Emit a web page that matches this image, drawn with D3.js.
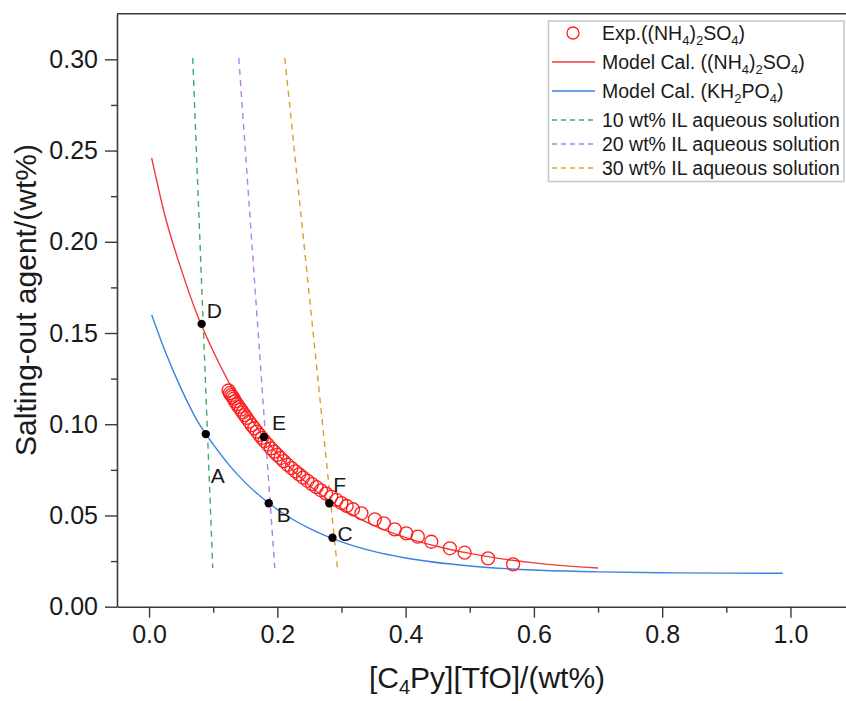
<!DOCTYPE html>
<html>
<head>
<meta charset="utf-8">
<script src="https://cdn.jsdelivr.net/npm/d3@7"></script>
<style>
  body { margin: 0; background: #fff; }
  svg { display: block; font-family: "Liberation Sans", Arial, sans-serif; }
</style>
</head>
<body>
<div id="chart"></div>
<script>
// Experimental points, (NH4)2SO4
const expX = [0.124, 0.126, 0.128, 0.130, 0.132, 0.134, 0.137, 0.140, 0.143, 0.146,
    0.149, 0.152, 0.156, 0.160, 0.164, 0.168, 0.172, 0.176, 0.180, 0.185,
    0.190, 0.195, 0.200, 0.205, 0.210, 0.216, 0.222, 0.228, 0.234, 0.240,
    0.247, 0.254, 0.261, 0.268, 0.276, 0.284, 0.292, 0.300, 0.308, 0.318,
    0.331, 0.352, 0.366, 0.383, 0.401, 0.419, 0.440, 0.469, 0.492, 0.5285, 0.5675];
const expY = [0.1185, 0.1170, 0.1160, 0.1150, 0.1140, 0.1125, 0.1110, 0.1095, 0.1080, 0.1065,
    0.1050, 0.1035, 0.1015, 0.0995, 0.0978, 0.0960, 0.0942, 0.0925, 0.0908, 0.0888,
    0.0868, 0.0850, 0.0832, 0.0815, 0.0798, 0.0778, 0.0760, 0.0742, 0.0725, 0.0708,
    0.0690, 0.0672, 0.0655, 0.0638, 0.0620, 0.0602, 0.0585, 0.0568, 0.0552, 0.0534,
    0.0512, 0.0479, 0.0457, 0.0424, 0.0402, 0.0384, 0.0356, 0.0320, 0.0296, 0.0265, 0.0232];

// Model curve (NH4)2SO4
const modelNX = [0.004, 0.025, 0.05, 0.075, 0.1, 0.125, 0.15, 0.175, 0.2, 0.25,
    0.3, 0.35, 0.4, 0.45, 0.5, 0.55, 0.6, 0.65, 0.7];
const modelNY = [0.246, 0.214, 0.185, 0.160, 0.140, 0.1226, 0.1076, 0.0947, 0.0838, 0.0664,
    0.0538, 0.0446, 0.0379, 0.0330, 0.0292, 0.0262, 0.0240, 0.0224, 0.0212];

// Model curve KH2PO4
const modelKX = [0.004, 0.025, 0.05, 0.075, 0.1, 0.125, 0.15, 0.2, 0.25, 0.3,
    0.35, 0.4, 0.5, 0.6, 0.7, 0.8, 0.9, 0.988];
const modelKY = [0.160, 0.140, 0.1195, 0.102, 0.089, 0.0776, 0.068, 0.0533, 0.0429, 0.0355,
    0.0303, 0.0267, 0.0223, 0.0201, 0.0191, 0.0186, 0.0184, 0.0183];

// IL aqueous solution lines (top end, bottom end)
const solNames = ["10 wt% IL aqueous solution", "20 wt% IL aqueous solution", "30 wt% IL aqueous solution"];
const solX1 = [0.0681, 0.1399, 0.2116];
const solY1 = [0.3007, 0.3007, 0.3007];
const solX2 = [0.0993, 0.1960, 0.2943];
const solY2 = [0.0212, 0.0212, 0.0190];
const solColors = ["#3daa6c", "#b27eea", "#d7a22c"];

// Marked points
const ptLabels = ["A", "B", "C", "D", "E", "F"];
const ptX = [0.0884, 0.1866, 0.286, 0.082, 0.179, 0.281];
const ptY = [0.0946, 0.0567, 0.0378, 0.155, 0.093, 0.0567];

const xMajor = [0, 0.2, 0.4, 0.6, 0.8, 1.0];
const xMinor = [0.1, 0.3, 0.5, 0.7, 0.9];
const yMajor = [0, 0.05, 0.10, 0.15, 0.20, 0.25, 0.30];
const yMinor = [0.025, 0.075, 0.125, 0.175, 0.225, 0.275];

const W = 846, H = 701;
const RED = "#f23a3a", BLUE = "#3c82e2";

const svg = d3.select("#chart").append("svg")
    .attr("width", W).attr("height", H);

const x = d3.scaleLinear().domain([-0.05, 1.1]).range([117, 854.6]);
const y = d3.scaleLinear().domain([0, 0.325]).range([606.7, 13.7]);

// helper: text with subscripts written as _{..}; shift in px
function richText(sel, str, subSize, shift) {
    const parts = str.split(/(_\{[^}]*\})/).filter(s => s.length);
    let off = 0;
    parts.forEach(p => {
        if (p.startsWith("_{")) {
            sel.append("tspan").attr("dy", shift - off).style("font-size", subSize)
                .text(p.slice(2, -1));
            off = shift;
        } else {
            sel.append("tspan").attr("dy", -off).text(p);
            off = 0;
        }
    });
}

// frame top line
svg.append("line")
    .attr("x1", x(-0.05)).attr("x2", W + 2)
    .attr("y1", y(0.325)).attr("y2", y(0.325))
    .attr("stroke", "#3a3a3a").attr("stroke-width", 1.6);

// axes
const axisStyle = g => {
    g.selectAll(".domain").attr("stroke", "#3a3a3a").attr("stroke-width", 1.6);
    g.selectAll(".tick line").attr("stroke", "#3a3a3a").attr("stroke-width", 1.4);
    g.selectAll(".tick text").attr("fill", "#1a1a1a").style("font-size", "25px")
        .style("font-family", "'Liberation Sans', Arial, sans-serif");
};

svg.append("g")
    .attr("transform", `translate(0,${y(0)})`)
    .call(d3.axisBottom(x).tickValues(xMajor).tickFormat(d3.format(".1f"))
        .tickSize(11).tickSizeOuter(0).tickPadding(8))
    .call(axisStyle);
svg.append("g")
    .attr("transform", `translate(0,${y(0)})`)
    .call(d3.axisBottom(x).tickValues(xMinor).tickFormat("").tickSize(6).tickSizeOuter(0))
    .call(axisStyle)
    .select(".domain").remove();

svg.append("g")
    .attr("transform", `translate(${x(-0.05)},0)`)
    .call(d3.axisLeft(y).tickValues(yMajor).tickFormat(d3.format(".2f"))
        .tickSize(12).tickSizeOuter(0).tickPadding(7))
    .call(axisStyle);
svg.append("g")
    .attr("transform", `translate(${x(-0.05)},0)`)
    .call(d3.axisLeft(y).tickValues(yMinor).tickFormat("").tickSize(6).tickSizeOuter(0))
    .call(axisStyle)
    .select(".domain").remove();

// axis titles
svg.append("text")
    .attr("transform", `translate(36,300) rotate(-90)`)
    .attr("text-anchor", "middle")
    .attr("fill", "#1a1a1a")
    .style("font-size", "30px")
    .text("Salting-out agent/(wt%)");

const xt = svg.append("text")
    .attr("x", 487).attr("y", 688)
    .attr("text-anchor", "middle")
    .attr("fill", "#1a1a1a")
    .style("font-size", "30px");
richText(xt, "[C_{4}Py][TfO]/(wt%)", "20px", 6);

// dashed solution lines
solNames.forEach((n, i) => {
    svg.append("line")
        .attr("x1", x(solX1[i])).attr("y1", y(solY1[i]))
        .attr("x2", x(solX2[i])).attr("y2", y(solY2[i]))
        .attr("stroke", solColors[i]).attr("stroke-width", 1.4)
        .attr("stroke-dasharray", "6,5");
});

// model curves
const line = d3.line().x(d => x(d[0])).y(d => y(d[1])).curve(d3.curveMonotoneX);

svg.append("path")
    .datum(modelKX.map((v, i) => [v, modelKY[i]]))
    .attr("fill", "none").attr("stroke", BLUE).attr("stroke-width", 1.4)
    .attr("d", line);

svg.append("path")
    .datum(modelNX.map((v, i) => [v, modelNY[i]]))
    .attr("fill", "none").attr("stroke", RED).attr("stroke-width", 1.4)
    .attr("d", line);

// experimental circles
svg.selectAll(".exp")
    .data(expX.map((v, i) => [v, expY[i]]))
    .enter().append("circle")
    .attr("class", "exp")
    .attr("cx", d => x(d[0])).attr("cy", d => y(d[1]))
    .attr("r", 6.5)
    .attr("fill", "none").attr("stroke", "#ff1f1f").attr("stroke-width", 1.3);

// marked points
const labelOffset = { A: [5, 49], B: [8, 19], C: [5, 3], D: [5, -6], E: [8, -7], F: [4, -11] };
ptLabels.forEach((lab, i) => {
    const px = x(ptX[i]), py = y(ptY[i]);
    svg.append("circle").attr("cx", px).attr("cy", py).attr("r", 4.2).attr("fill", "#000");
    svg.append("text")
        .attr("x", px + labelOffset[lab][0]).attr("y", py + labelOffset[lab][1])
        .attr("fill", "#1a1a1a").style("font-size", "21px")
        .text(lab);
});

// legend
const lg = svg.append("g");
lg.append("rect")
    .attr("x", 548.5).attr("y", 21).attr("width", 295.5).attr("height", 160.5)
    .attr("fill", "#fff").attr("stroke", "#c4c4c4").attr("stroke-width", 1.5);

const legendItems = [
    { label: "Exp.((NH_{4})_{2}SO_{4})", type: "circle", color: "#ff1f1f", cy: 33 },
    { label: "Model Cal. ((NH_{4})_{2}SO_{4})", type: "line", color: RED, cy: 62 },
    { label: "Model Cal. (KH_{2}PO_{4})", type: "line", color: BLUE, cy: 91 },
    { label: solNames[0], type: "dash", color: solColors[0], cy: 120 },
    { label: solNames[1], type: "dash", color: solColors[1], cy: 144 },
    { label: solNames[2], type: "dash", color: solColors[2], cy: 168 }
];

legendItems.forEach(it => {
    if (it.type === "circle") {
        lg.append("circle").attr("cx", 573).attr("cy", it.cy).attr("r", 6)
            .attr("fill", "none").attr("stroke", it.color).attr("stroke-width", 1.3);
    } else {
        lg.append("line").attr("x1", 552).attr("x2", 595)
            .attr("y1", it.cy).attr("y2", it.cy)
            .attr("stroke", it.color).attr("stroke-width", 1.4)
            .attr("stroke-dasharray", it.type === "dash" ? "5,4" : null);
    }
    const t = lg.append("text")
        .attr("x", 602).attr("y", it.cy + 7)
        .attr("fill", "#1a1a1a").style("font-size", "19.5px");
    richText(t, it.label, "13px", 5);
});
</script>
</body>
</html>
